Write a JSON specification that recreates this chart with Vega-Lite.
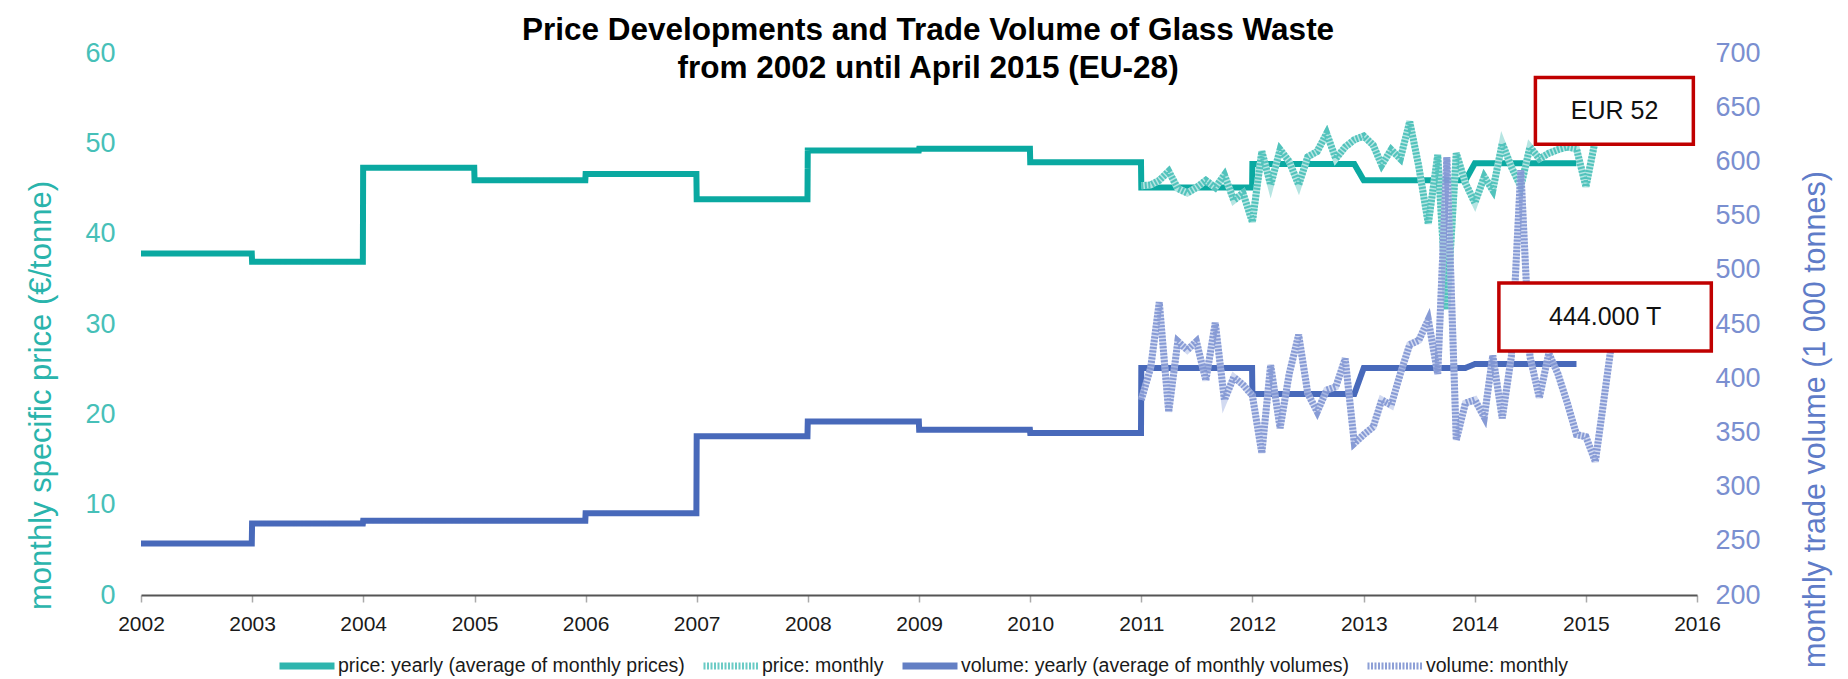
{
  "$schema": "https://vega.github.io/schema/vega-lite/v6.json",
  "width": 1556,
  "height": 542,
  "autosize": {"type": "none"},
  "padding": {"left": 141, "top": 53, "right": 151, "bottom": 84},
  "background": "white",
  "title": {
    "text": ["Price Developments and Trade Volume of Glass Waste", "from 2002 until  April 2015 (EU-28)"],
    "font": "Liberation Sans",
    "fontSize": 31.5,
    "fontWeight": "bold",
    "color": "#000000",
    "anchor": "middle",
    "offset": -45,
    "dx": 9,
    "lineHeight": 38
  },
  "config": {
    "view": {"stroke": null},
    "font": "Liberation Sans",
    "axisX": {
      "domainColor": "#555555",
      "domainWidth": 2,
      "tickColor": "#aaaaaa",
      "tickSize": 7,
      "tickWidth": 1.5,
      "labelFontSize": 21,
      "labelColor": "#1a1a1a",
      "labelPadding": 11,
      "labelFlush": false,
      "grid": false
    },
    "legend": {
      "orient": "none",
      "legendX": 135,
      "legendY": 582,
      "direction": "horizontal",
      "columns": 4,
      "columnPadding": 4,
      "padding": 0,
      "symbolType": "stroke",
      "symbolSize": 3025,
      "symbolStrokeWidth": 7,
      "labelFontSize": 19.5,
      "labelColor": "#1a1a1a",
      "labelOffset": 0,
      "labelLimit": 1000,
      "title": null
    }
  },
  "datasets": {
    "py": [
      {"date": "2002-01-01", "value": 37.8}, {"date": "2002-12-31", "value": 37.8},
      {"date": "2003-01-01", "value": 36.9}, {"date": "2003-12-31", "value": 36.9},
      {"date": "2004-01-01", "value": 47.3}, {"date": "2004-12-31", "value": 47.3},
      {"date": "2005-01-01", "value": 45.9}, {"date": "2005-12-31", "value": 45.9},
      {"date": "2006-01-01", "value": 46.6}, {"date": "2006-12-31", "value": 46.6},
      {"date": "2007-01-01", "value": 43.8}, {"date": "2007-12-31", "value": 43.8},
      {"date": "2008-01-01", "value": 49.2}, {"date": "2008-12-31", "value": 49.2},
      {"date": "2009-01-01", "value": 49.4}, {"date": "2009-12-31", "value": 49.4},
      {"date": "2010-01-01", "value": 47.9}, {"date": "2010-12-31", "value": 47.9},
      {"date": "2011-01-01", "value": 45.1}, {"date": "2011-12-31", "value": 45.1},
      {"date": "2012-01-01", "value": 47.7}, {"date": "2012-12-01", "value": 47.7},
      {"date": "2013-01-01", "value": 45.9}, {"date": "2013-12-01", "value": 45.9},
      {"date": "2014-01-01", "value": 47.8}, {"date": "2014-12-01", "value": 47.8}
    ],
    "vy": [
      {"date": "2002-01-01", "value": 247.5}, {"date": "2002-12-31", "value": 247.5},
      {"date": "2003-01-01", "value": 266}, {"date": "2003-12-31", "value": 266},
      {"date": "2004-01-01", "value": 268.5}, {"date": "2004-12-31", "value": 268.5},
      {"date": "2005-01-01", "value": 268.5}, {"date": "2005-12-31", "value": 268.5},
      {"date": "2006-01-01", "value": 275.5}, {"date": "2006-12-31", "value": 275.5},
      {"date": "2007-01-01", "value": 346.5}, {"date": "2007-12-31", "value": 346.5},
      {"date": "2008-01-01", "value": 360}, {"date": "2008-12-31", "value": 360},
      {"date": "2009-01-01", "value": 352.5}, {"date": "2009-12-31", "value": 352.5},
      {"date": "2010-01-01", "value": 349.5}, {"date": "2010-12-31", "value": 349.5},
      {"date": "2011-01-01", "value": 409.5}, {"date": "2011-12-31", "value": 409.5},
      {"date": "2012-01-01", "value": 385.5}, {"date": "2012-12-01", "value": 385.5},
      {"date": "2013-01-01", "value": 409.5}, {"date": "2013-12-01", "value": 409.5},
      {"date": "2014-01-01", "value": 413}, {"date": "2014-12-01", "value": 413}
    ],
    "pm": [
      {"date": "2011-01-01", "value": 45.3}, {"date": "2011-02-01", "value": 45.4}, {"date": "2011-03-01", "value": 45.9}, {"date": "2011-04-01", "value": 46.9},
      {"date": "2011-05-01", "value": 45.0}, {"date": "2011-06-01", "value": 44.5}, {"date": "2011-07-01", "value": 45.1}, {"date": "2011-08-01", "value": 45.9},
      {"date": "2011-09-01", "value": 45.1}, {"date": "2011-10-01", "value": 46.5}, {"date": "2011-11-01", "value": 43.7}, {"date": "2011-12-01", "value": 44.5},
      {"date": "2012-01-01", "value": 41.3}, {"date": "2012-02-01", "value": 49.1}, {"date": "2012-03-01", "value": 45.4}, {"date": "2012-04-01", "value": 49.3},
      {"date": "2012-05-01", "value": 48.0}, {"date": "2012-06-01", "value": 45.4}, {"date": "2012-07-01", "value": 48.5}, {"date": "2012-08-01", "value": 49.1},
      {"date": "2012-09-01", "value": 51.1}, {"date": "2012-10-01", "value": 48.3}, {"date": "2012-11-01", "value": 49.6}, {"date": "2012-12-01", "value": 50.4},
      {"date": "2013-01-01", "value": 50.8}, {"date": "2013-02-01", "value": 49.8}, {"date": "2013-03-01", "value": 47.6}, {"date": "2013-04-01", "value": 49.3},
      {"date": "2013-05-01", "value": 48.3}, {"date": "2013-06-01", "value": 52.4}, {"date": "2013-07-01", "value": 47.4}, {"date": "2013-08-01", "value": 41.1},
      {"date": "2013-09-01", "value": 48.7}, {"date": "2013-10-01", "value": 31.6}, {"date": "2013-11-01", "value": 48.9}, {"date": "2013-12-01", "value": 45.6},
      {"date": "2014-01-01", "value": 43.4}, {"date": "2014-02-01", "value": 46.3}, {"date": "2014-03-01", "value": 44.8}, {"date": "2014-04-01", "value": 50.0},
      {"date": "2014-05-01", "value": 47.4}, {"date": "2014-06-01", "value": 45.2}, {"date": "2014-07-01", "value": 49.6}, {"date": "2014-08-01", "value": 48.3},
      {"date": "2014-09-01", "value": 48.9}, {"date": "2014-10-01", "value": 49.3}, {"date": "2014-11-01", "value": 49.6}, {"date": "2014-12-01", "value": 49.4},
      {"date": "2015-01-01", "value": 45.2}, {"date": "2015-02-01", "value": 50.4}, {"date": "2015-03-01", "value": 51.5}, {"date": "2015-04-01", "value": 52.0}
    ],
    "vm": [
      {"date": "2011-01-01", "value": 380}, {"date": "2011-02-01", "value": 410}, {"date": "2011-03-01", "value": 470}, {"date": "2011-04-01", "value": 369},
      {"date": "2011-05-01", "value": 434}, {"date": "2011-06-01", "value": 426}, {"date": "2011-07-01", "value": 434}, {"date": "2011-08-01", "value": 398},
      {"date": "2011-09-01", "value": 451}, {"date": "2011-10-01", "value": 380}, {"date": "2011-11-01", "value": 401}, {"date": "2011-12-01", "value": 394},
      {"date": "2012-01-01", "value": 384}, {"date": "2012-02-01", "value": 331}, {"date": "2012-03-01", "value": 412}, {"date": "2012-04-01", "value": 354},
      {"date": "2012-05-01", "value": 404}, {"date": "2012-06-01", "value": 440}, {"date": "2012-07-01", "value": 386}, {"date": "2012-08-01", "value": 369},
      {"date": "2012-09-01", "value": 389}, {"date": "2012-10-01", "value": 392}, {"date": "2012-11-01", "value": 418}, {"date": "2012-12-01", "value": 340},
      {"date": "2013-01-01", "value": 348}, {"date": "2013-02-01", "value": 355}, {"date": "2013-03-01", "value": 380}, {"date": "2013-04-01", "value": 375},
      {"date": "2013-05-01", "value": 404}, {"date": "2013-06-01", "value": 431}, {"date": "2013-07-01", "value": 435}, {"date": "2013-08-01", "value": 454},
      {"date": "2013-09-01", "value": 404}, {"date": "2013-10-01", "value": 604}, {"date": "2013-11-01", "value": 343}, {"date": "2013-12-01", "value": 377},
      {"date": "2014-01-01", "value": 380}, {"date": "2014-02-01", "value": 364}, {"date": "2014-03-01", "value": 421}, {"date": "2014-04-01", "value": 363},
      {"date": "2014-05-01", "value": 420}, {"date": "2014-06-01", "value": 592}, {"date": "2014-07-01", "value": 420}, {"date": "2014-08-01", "value": 382},
      {"date": "2014-09-01", "value": 423}, {"date": "2014-10-01", "value": 404}, {"date": "2014-11-01", "value": 377}, {"date": "2014-12-01", "value": 348},
      {"date": "2015-01-01", "value": 346}, {"date": "2015-02-01", "value": 323}, {"date": "2015-03-01", "value": 380}, {"date": "2015-04-01", "value": 444}
    ],
    "notesPrice": [
      {"label": "EUR 52", "start": "2014-07-19", "end": "2015-12-20", "low": 49.9, "high": 57.3, "at": "2015-04-05", "level": 53.6}
    ],
    "notesVolume": [
      {"label": "444.000 T", "start": "2014-03-21", "end": "2016-02-17", "low": 425, "high": 487.8, "at": "2015-03-05", "level": 456}
    ]
  },
  "layer": [
    {
      "layer": [
        {
          "data": {"name": "py"},
          "mark": {"type": "line", "strokeWidth": 6},
          "encoding": {
            "x": {
              "field": "date", "type": "temporal", "title": null,
              "scale": {"type": "utc", "domain": [{"year": 2002, "month": 1, "date": 1, "utc": true}, {"year": 2016, "month": 1, "date": 1, "utc": true}]},
              "axis": {"format": "%Y", "tickCount": {"interval": "year", "step": 1}, "labelFlush": false, "title": null}
            },
            "y": {
              "field": "value", "type": "quantitative",
              "scale": {"domain": [0, 60], "nice": false, "zero": false},
              "axis": {
                "orient": "left", "values": [0, 10, 20, 30, 40, 50, 60],
                "title": "monthly specific price (€/tonne)",
                "ticks": false, "tickSize": 0, "domain": false, "grid": false,
                "labelFontSize": 27, "labelColor": "#46c0b8", "labelPadding": 26,
                "titleFontSize": 31, "titleFontWeight": "normal", "titleColor": "#2ab4ac",
                "titleAngle": 270, "titleX": -100, "titleY": 342, "titleAlign": "center", "titleBaseline": "middle"
              }
            },
            "color": {
              "datum": "price: yearly (average of monthly prices)",
              "scale": {
                "domain": ["price: yearly (average of monthly prices)", "price: monthly", "volume: yearly (average of monthly volumes)", "volume: monthly"],
                "range": ["#0aa9a1", "#52c3bc", "#4869ba", "#7a8fd0"]
              }
            },
            "strokeDash": {
              "datum": "price: yearly (average of monthly prices)",
              "scale": {
                "domain": ["price: yearly (average of monthly prices)", "price: monthly", "volume: yearly (average of monthly volumes)", "volume: monthly"],
                "range": [[1, 0], [2, 1.5], [1, 0], [2, 1.5]]
              }
            }
          }
        },
        {
          "data": {"name": "pm"},
          "mark": {"type": "line", "strokeWidth": 7, "color": "#b5e5e2"},
          "encoding": {
            "x": {"field": "date", "type": "temporal"},
            "y": {"field": "value", "type": "quantitative"}
          }
        },
        {
          "data": {"name": "pm"},
          "mark": {"type": "line", "strokeWidth": 7},
          "encoding": {
            "x": {"field": "date", "type": "temporal"},
            "y": {"field": "value", "type": "quantitative"},
            "color": {"datum": "price: monthly"},
            "strokeDash": {"datum": "price: monthly"}
          }
        },
        {
          "data": {"name": "notesPrice"},
          "mark": {"type": "rect", "fill": "white", "stroke": "#c00000", "strokeWidth": 3.5},
          "encoding": {
            "x": {"field": "start", "type": "temporal"},
            "x2": {"field": "end"},
            "y": {"field": "low", "type": "quantitative"},
            "y2": {"field": "high"}
          }
        },
        {
          "data": {"name": "notesPrice"},
          "mark": {"type": "text", "fontSize": 25, "color": "#111111", "align": "center", "baseline": "middle"},
          "encoding": {
            "x": {"field": "at", "type": "temporal"},
            "y": {"field": "level", "type": "quantitative"},
            "text": {"field": "label"}
          }
        }
      ]
    },
    {
      "layer": [
        {
          "data": {"name": "vy"},
          "mark": {"type": "line", "strokeWidth": 6},
          "encoding": {
            "x": {"field": "date", "type": "temporal"},
            "y": {
              "field": "value", "type": "quantitative",
              "scale": {"domain": [200, 700], "nice": false, "zero": false},
              "axis": {
                "orient": "right", "values": [200, 250, 300, 350, 400, 450, 500, 550, 600, 650, 700],
                "title": "monthly trade volume (1 000 tonnes)",
                "ticks": false, "tickSize": 0, "domain": false, "grid": false,
                "labelFontSize": 27, "labelColor": "#7a8fd0", "labelPadding": 18,
                "titleFontSize": 30.5, "titleFontWeight": "normal", "titleColor": "#5f7cc8",
                "titleAngle": 270, "titleX": 118, "titleY": 366, "titleAlign": "center", "titleBaseline": "middle"
              }
            },
            "color": {"datum": "volume: yearly (average of monthly volumes)"},
            "strokeDash": {"datum": "volume: yearly (average of monthly volumes)"}
          }
        },
        {
          "data": {"name": "vm"},
          "mark": {"type": "line", "strokeWidth": 7, "color": "#c3cdec", "opacity": 0.75},
          "encoding": {
            "x": {"field": "date", "type": "temporal"},
            "y": {"field": "value", "type": "quantitative"}
          }
        },
        {
          "data": {"name": "vm"},
          "mark": {"type": "line", "strokeWidth": 7, "opacity": 0.85},
          "encoding": {
            "x": {"field": "date", "type": "temporal"},
            "y": {"field": "value", "type": "quantitative"},
            "color": {"datum": "volume: monthly"},
            "strokeDash": {"datum": "volume: monthly"}
          }
        },
        {
          "data": {"name": "notesVolume"},
          "mark": {"type": "rect", "fill": "white", "stroke": "#c00000", "strokeWidth": 3.5},
          "encoding": {
            "x": {"field": "start", "type": "temporal"},
            "x2": {"field": "end"},
            "y": {"field": "low", "type": "quantitative"},
            "y2": {"field": "high"}
          }
        },
        {
          "data": {"name": "notesVolume"},
          "mark": {"type": "text", "fontSize": 25, "color": "#111111", "align": "center", "baseline": "middle"},
          "encoding": {
            "x": {"field": "at", "type": "temporal"},
            "y": {"field": "level", "type": "quantitative"},
            "text": {"field": "label"}
          }
        }
      ]
    }
  ],
  "resolve": {"scale": {"y": "independent"}}
}
